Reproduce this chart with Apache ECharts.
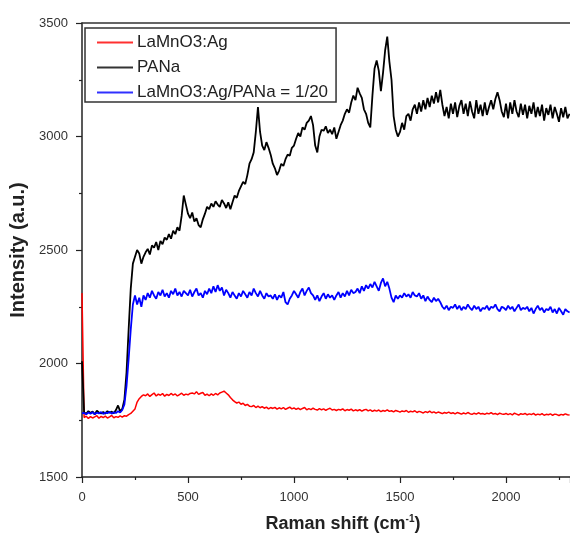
<!DOCTYPE html>
<html>
<head>
<meta charset="utf-8">
<script src="https://cdn.jsdelivr.net/npm/echarts@6/dist/echarts.min.js"></script>
<style>
html,body{margin:0;padding:0;background:#fff;}
#c{width:570px;height:538px;}
</style>
</head>
<body>
<div id="c"></div>
<script>
// Raman shift grid (cm^-1): start and step of sampled spectra
const shiftStart = 0;
const shiftStep = 10;

const seriesNames = ['LaMnO3:Ag', 'PANa', 'LaMnO3:Ag/PANa = 1/20'];

const xTicks = [0, 500, 1000, 1500, 2000];
const yTicks = [1500, 2000, 2500, 3000, 3500];

const redValues = [
2310,1762,1768,1758,1766,1760,1765,1770,1759,1767,
1762,1768,1760,1765,1771,1761,1766,1763,1769,1764,
1770,1768,1775,1780,1790,1800,1830,1845,1855,1862,
1858,1866,1855,1863,1870,1857,1865,1860,1868,1856,
1864,1859,1868,1861,1866,1857,1863,1869,1860,1865,
1862,1868,1870,1866,1876,1864,1869,1872,1860,1865,
1858,1866,1860,1868,1862,1870,1874,1878,1870,1862,
1850,1840,1832,1826,1830,1820,1825,1815,1820,1812,
1810,1815,1806,1812,1805,1810,1803,1808,1800,1806,
1802,1807,1799,1805,1800,1806,1798,1803,1808,1800,
1804,1798,1803,1797,1802,1806,1796,1801,1797,1803,
1798,1795,1801,1796,1800,1794,1799,1803,1795,1798,
1793,1798,1795,1800,1792,1797,1794,1799,1791,1796,
1792,1797,1790,1795,1798,1791,1796,1789,1794,1790,
1795,1788,1793,1790,1796,1789,1792,1787,1793,1790,
1786,1791,1788,1793,1785,1790,1787,1792,1784,1789,
1786,1782,1788,1784,1790,1783,1787,1781,1786,1783,
1779,1784,1781,1786,1780,1783,1778,1784,1781,1777,
1782,1778,1784,1779,1776,1781,1777,1783,1778,1780,
1776,1781,1778,1784,1777,1780,1775,1781,1778,1776,
1780,1775,1779,1774,1781,1777,1773,1779,1776,1780,
1774,1778,1775,1780,1773,1777,1774,1779,1772,1776,
1774,1778,1772,1777,1775,1771,1776,1773,1778,1774,
1773
];

const blackValues = [
2010,1785,1778,1790,1782,1788,1776,1792,1784,1780,
1786,1779,1790,1783,1788,1781,1795,1815,1789,1800,
1840,1960,2150,2330,2440,2470,2500,2485,2440,2470,
2490,2505,2480,2520,2510,2535,2500,2540,2525,2555,
2545,2570,2550,2585,2570,2600,2585,2650,2740,2700,
2660,2640,2665,2625,2640,2610,2600,2635,2660,2690,
2680,2705,2690,2715,2700,2690,2720,2705,2685,2710,
2680,2710,2740,2730,2760,2780,2800,2790,2830,2880,
2900,2930,3020,3130,3020,2960,2940,2975,2950,2920,
2880,2860,2830,2850,2880,2870,2900,2920,2915,2950,
2960,2990,3015,3000,3040,3030,3060,3070,3090,3050,
2960,2930,3000,3030,3025,3045,3015,3030,3010,3040,
2990,3020,3050,3070,3100,3120,3105,3150,3180,3160,
3215,3190,3170,3120,3100,3060,3040,3180,3300,3335,
3290,3200,3280,3380,3440,3330,3250,3090,3030,3000,
3020,3060,3030,3090,3100,3070,3120,3140,3100,3150,
3110,3160,3120,3170,3130,3180,3145,3195,3150,3205,
3140,3090,3130,3080,3145,3100,3150,3085,3135,3160,
3100,3145,3090,3155,3110,3080,3160,3100,3140,3090,
3150,3095,3130,3160,3120,3165,3195,3160,3110,3085,
3145,3080,3150,3100,3160,3110,3085,3145,3095,3140,
3080,3135,3100,3150,3085,3130,3090,3140,3070,3125,
3095,3140,3080,3130,3100,3065,3125,3085,3130,3080,
3100
];

const blueValues = [
1780,1782,1776,1784,1779,1785,1777,1783,1780,1786,
1778,1784,1781,1787,1779,1785,1782,1790,1784,1795,
1820,1900,2020,2150,2260,2300,2260,2290,2250,2300,
2280,2310,2290,2320,2300,2285,2315,2300,2325,2295,
2310,2290,2320,2305,2330,2300,2315,2295,2320,2310,
2300,2325,2295,2315,2330,2300,2310,2290,2320,2305,
2330,2310,2340,2315,2345,2320,2335,2300,2325,2310,
2290,2315,2300,2285,2310,2295,2320,2305,2290,2315,
2300,2330,2310,2295,2320,2300,2285,2310,2295,2300,
2285,2305,2280,2300,2290,2315,2270,2260,2285,2300,
2320,2305,2290,2315,2330,2300,2320,2335,2310,2300,
2280,2300,2275,2295,2310,2285,2305,2290,2300,2280,
2300,2315,2290,2310,2295,2320,2300,2325,2310,2315,
2330,2310,2340,2320,2345,2330,2350,2335,2360,2340,
2320,2355,2375,2340,2360,2330,2290,2270,2300,2285,
2300,2290,2310,2295,2305,2290,2315,2300,2295,2310,
2285,2300,2275,2295,2280,2270,2290,2275,2285,2270,
2250,2240,2255,2235,2250,2245,2260,2240,2255,2235,
2250,2240,2260,2245,2235,2255,2240,2250,2230,2245,
2240,2255,2235,2250,2245,2260,2240,2230,2250,2245,
2235,2255,2240,2250,2230,2245,2260,2235,2245,2240,
2250,2230,2245,2220,2240,2255,2235,2245,2225,2240,
2235,2250,2225,2240,2220,2245,2230,2215,2240,2230,
2225
];

function pairs(vals) {
  return vals.map((v, i) => [shiftStart + i * shiftStep, v]);
}

const chart = echarts.init(document.getElementById('c'), null, {renderer: 'canvas'});
const FONT = 'Liberation Sans, Arial, sans-serif';

chart.setOption({
  animation: false,
  backgroundColor: '#fff',
  grid: {left: 82, top: 23, right: 0, bottom: 61, containLabel: false, outerBoundsMode: 'none'},
  legend: {
    orient: 'vertical',
    left: 85, top: 28,
    data: seriesNames,
    icon: 'rect',
    itemWidth: 36, itemHeight: 2, itemGap: 6,
    padding: [5, 8, 0, 12],
    borderColor: '#333', borderWidth: 1.5, borderRadius: 0,
    textStyle: {fontFamily: FONT, fontSize: 17, lineHeight: 19, color: '#222', padding: [0, 0, 0, -1]}
  },
  xAxis: [{
    type: 'value', min: 0, max: 2302, interval: 500,
    name: 'Raman shift (cm{sup|-1})', nameLocation: 'middle', nameGap: 37,
    nameTextStyle: {fontFamily: FONT, fontSize: 18, fontWeight: 'bold', color: '#222', padding: [0, 0, 0, 34],
      rich: {sup: {fontFamily: FONT, fontSize: 10, fontWeight: 'bold', color: '#222', padding: [0, 0, 10, 0]}}},
    axisLine: {show: true, onZero: false, lineStyle: {color: '#222', width: 1.5}},
    axisTick: {show: true, inside: false, length: 6, lineStyle: {color: '#222', width: 1.2}},
    minorTick: {show: true, splitNumber: 2, length: 3, lineStyle: {color: '#222', width: 1.2}},
    axisLabel: {fontFamily: FONT, fontSize: 13, color: '#333', margin: 14, showMaxLabel: false, formatter: v => String(v)},
    splitLine: {show: false}
  }, {
    type: 'value', position: 'top', min: 0, max: 2302,
    axisLine: {show: true, lineStyle: {color: '#333', width: 1.5}},
    axisTick: {show: false}, axisLabel: {show: false}, splitLine: {show: false}
  }],
  yAxis: {
    type: 'value', min: 1500, max: 3500, interval: 500,
    name: 'Intensity (a.u.)', nameLocation: 'middle', nameGap: 53,
    nameTextStyle: {fontFamily: FONT, fontSize: 20, fontWeight: 'bold', color: '#222'},
    axisLine: {show: true, onZero: false, lineStyle: {color: '#222', width: 1.5}},
    axisTick: {show: true, inside: false, length: 6, lineStyle: {color: '#222', width: 1.2}},
    minorTick: {show: true, splitNumber: 2, length: 3, lineStyle: {color: '#222', width: 1.2}},
    axisLabel: {fontFamily: FONT, fontSize: 13, color: '#333', margin: 14, formatter: v => String(v)},
    splitLine: {show: false}
  },
  series: [
    {name: seriesNames[0], type: 'line', data: pairs(redValues), symbol: 'none', lineStyle: {color: '#ff0000', width: 1.5}, itemStyle: {color: '#ff3030'}, z: 2},
    {name: seriesNames[1], type: 'line', data: pairs(blackValues), symbol: 'none', lineStyle: {color: '#000000', width: 1.8}, itemStyle: {color: '#333'}, z: 3},
    {name: seriesNames[2], type: 'line', data: pairs(blueValues), symbol: 'none', lineStyle: {color: '#0000ff', width: 1.8}, itemStyle: {color: '#3030ff'}, z: 4}
  ]
});
</script>
</body>
</html>
